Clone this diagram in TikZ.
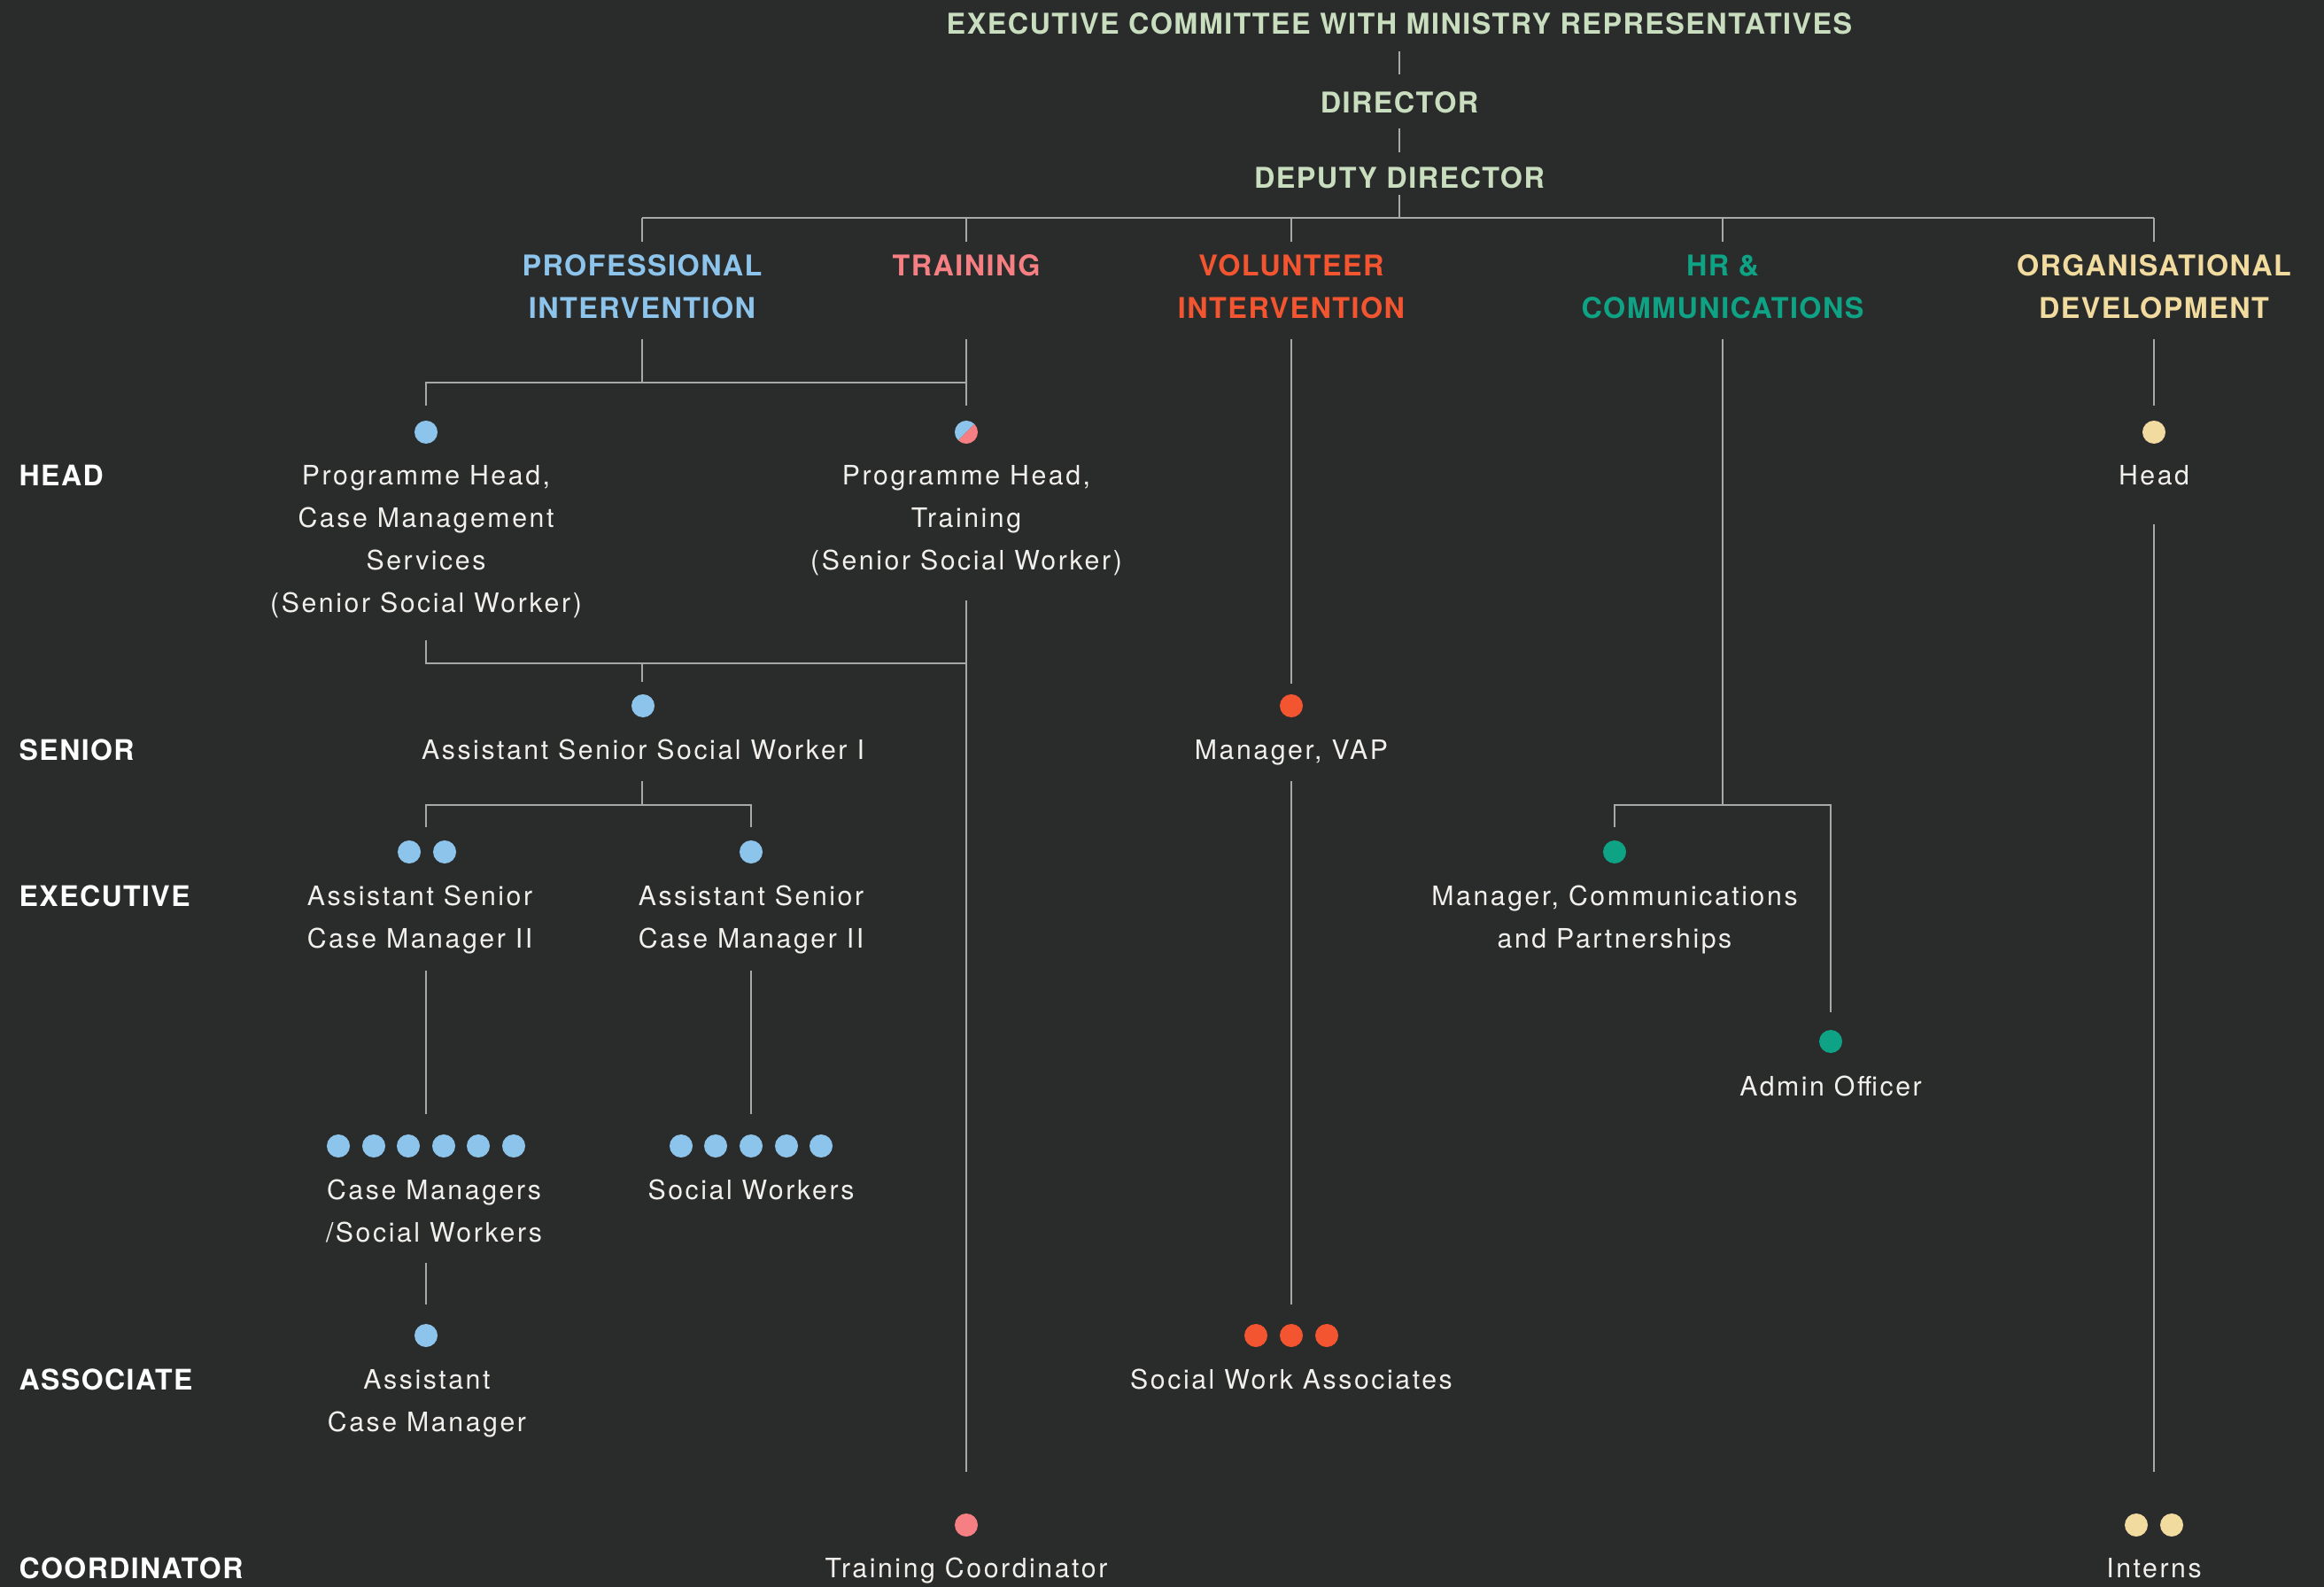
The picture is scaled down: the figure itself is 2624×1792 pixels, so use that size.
\documentclass[tikz,border=0pt]{standalone}
\usepackage{fontspec}
\newfontfamily\hdfam{TeX Gyre Heros}[LetterSpace=4.5]
\newfontfamily\bdfam{TeX Gyre Heros}[LetterSpace=8.5]
\definecolor{bgc}{HTML}{2A2B2B}
\definecolor{hgreen}{HTML}{C9DDBF}
\definecolor{cblue}{HTML}{8DC4EC}
\definecolor{cpink}{HTML}{F57F82}
\definecolor{corange}{HTML}{F2552F}
\definecolor{cteal}{HTML}{0EA384}
\definecolor{cyellow}{HTML}{F1DB9E}
\definecolor{txtw}{HTML}{F2F0EC}
\definecolor{lgray}{HTML}{A8A8A8}
\newcommand\hstr{\rule{0pt}{9pt}}
\newcommand\bstr{\rule{0pt}{8pt}}
\tikzset{
  conn/.style={draw=lgray, line width=0.55pt},
  pdot/.style={circle, fill=#1, minimum size=0.26cm, inner sep=0pt},
  hd/.style={font=\hdfam\bfseries\fontsize{9.2}{13.6}\selectfont, text=#1, align=center, anchor=north, inner sep=0pt},
  bd/.style={font=\bdfam\fontsize{8.6}{13.6}\selectfont, text=txtw, align=center, anchor=north, inner sep=0pt},
  lvl/.style={font=\hdfam\bfseries\fontsize{9.1}{13.6}\selectfont, text=white, anchor=base west, inner sep=0pt},
}
\begin{document}
\begin{tikzpicture}[x=0.01cm, y=-0.01cm]
\fill[bgc] (0,0) rectangle (2624,1792);
\useasboundingbox (0,0) rectangle (2624,1792);

% ---------- top headers ----------
\node[hd=hgreen] (exec) at (1580,6.5) {\hstr EXECUTIVE COMMITTEE WITH MINISTRY REPRESENTATIVES};
\node[hd=hgreen] (dir) at (1580,95) {\hstr DIRECTOR};
\node[hd=hgreen] (dep) at (1580,180.5) {\hstr DEPUTY DIRECTOR};

% ---------- departments ----------
\node[hd=cblue] (pi) at (725,279.5) {\hstr PROFESSIONAL\\INTERVENTION};
\node[hd=cpink] (tr) at (1091,279.5) {\hstr TRAINING};
\node[hd=corange] (vo) at (1458,279.5) {\hstr VOLUNTEER\\INTERVENTION};
\node[hd=cteal] (hr) at (1945,279.5) {\hstr HR \&\\COMMUNICATIONS};
\node[hd=cyellow] (od) at (2432,279.5) {\hstr ORGANISATIONAL\\DEVELOPMENT};

% ---------- level labels ----------
\node[lvl] (l-head) at (21,548.5) {HEAD};
\node[lvl] (l-senior) at (21,858.5) {SENIOR};
\node[lvl] (l-exec) at (21,1023.5) {EXECUTIVE};
\node[lvl] (l-assoc) at (21,1569.5) {ASSOCIATE};
\node[lvl] (l-coord) at (21,1782.5) {COORDINATOR};

% ---------- dots ----------
\node[pdot=cblue] (d-phcms) at (481,488) {};
\node[circle, minimum size=0.26cm, inner sep=0pt] (d-phtr) at (1091,488) {};
\fill[cblue] (d-phtr.center) ++(45:0.13cm) arc[start angle=45, end angle=225, radius=0.13cm] -- cycle;
\fill[cpink] (d-phtr.center) ++(225:0.13cm) arc[start angle=225, end angle=405, radius=0.13cm] -- cycle;
\node[pdot=cyellow] (d-odhead) at (2432,488) {};
\node[pdot=cblue] (d-assw) at (726,797) {};
\node[pdot=corange] (d-vap) at (1458,797) {};
\node[pdot=cblue] (d-ascm1a) at (462,962) {};
\node[pdot=cblue] (d-ascm1b) at (502,962) {};
\node[pdot=cblue] (d-ascm2) at (848,962) {};
\node[pdot=cteal] (d-mcp) at (1823,962) {};
\node[pdot=cteal] (d-admin) at (2067,1176) {};
\foreach \i/\xx in {1/382,2/422,3/461,4/501,5/540,6/580}
  \node[pdot=cblue] (d-cm\i) at (\xx,1294) {};
\foreach \i/\xx in {1/769,2/808,3/848,4/888,5/927}
  \node[pdot=cblue] (d-sw\i) at (\xx,1294) {};
\node[pdot=cblue] (d-acm) at (481,1508) {};
\foreach \i/\xx in {1/1418,2/1458,3/1498}
  \node[pdot=corange] (d-swa\i) at (\xx,1508) {};
\node[pdot=cpink] (d-tc) at (1091,1722) {};
\node[pdot=cyellow] (d-int1) at (2412,1722) {};
\node[pdot=cyellow] (d-int2) at (2452,1722) {};

% ---------- body texts ----------
\node[bd] (t-phcms) at (481,519) {\bstr Programme Head,\\Case Management\\Services\\(Senior Social Worker)};
\node[bd] (t-phtr) at (1091,519) {\bstr Programme Head,\\Training\\(Senior Social Worker)};
\node[bd] (t-odhead) at (2432,519) {\bstr Head};
\node[bd] (t-assw) at (726,829) {\bstr Assistant Senior Social Worker I};
\node[bd] (t-vap) at (1458,829) {\bstr Manager, VAP};
\node[bd] (t-ascm1) at (474,994) {\bstr Assistant Senior\\Case Manager II};
\node[bd] (t-ascm2) at (848,994) {\bstr Assistant Senior\\Case Manager II};
\node[bd] (t-mcp) at (1823,994) {\bstr Manager, Communications\\and Partnerships};
\node[bd] (t-admin) at (2067,1209) {\bstr Admin Officer};
\node[bd] (t-cmsw) at (490,1326) {\bstr Case Managers\\/Social Workers};
\node[bd] (t-sw) at (848,1326) {\bstr Social Workers};
\node[bd] (t-acm) at (482,1540) {\bstr Assistant\\Case Manager};
\node[bd] (t-swa) at (1458,1540) {\bstr Social Work Associates};
\node[bd] (t-tc) at (1091,1753) {\bstr Training Coordinator};
\node[bd] (t-int) at (2432,1753) {\bstr Interns};

% ---------- connector coordinates ----------
\coordinate (j-ex1) at (1580,58);  \coordinate (j-ex2) at (1580,84);
\coordinate (j-di1) at (1580,145); \coordinate (j-di2) at (1580,172);
\coordinate (j-de1) at (1580,220); \coordinate (j-bus) at (1580,246);
\coordinate (b-pi) at (725,246);  \coordinate (b-tr) at (1091,246);
\coordinate (b-vo) at (1458,246); \coordinate (b-hr) at (1945,246);
\coordinate (b-od) at (2432,246);
\coordinate (t-pi) at (725,273);  \coordinate (t-tr) at (1091,273);
\coordinate (t-vo) at (1458,273); \coordinate (t-hr) at (1945,273);
\coordinate (t-od) at (2432,273);
\coordinate (u-pi) at (725,383);  \coordinate (u-tr) at (1091,383);
\coordinate (u-vo) at (1458,383); \coordinate (u-hr) at (1945,383);
\coordinate (u-od) at (2432,383);
\coordinate (k-pi) at (725,432); \coordinate (k-l) at (481,432);
\coordinate (k-tr) at (1091,432);
\coordinate (k-l2) at (481,458); \coordinate (k-tr2) at (1091,458);
\coordinate (o-od2) at (2432,458);
\coordinate (m-l1) at (481,723); \coordinate (m-l2) at (481,749);
\coordinate (m-tr) at (1091,749); \coordinate (m-c) at (725,749);
\coordinate (m-c2) at (725,770);
\coordinate (tr-a) at (1091,678); \coordinate (tr-b) at (1091,1662);
\coordinate (s-c1) at (725,882); \coordinate (s-c2) at (725,909);
\coordinate (s-l) at (481,909); \coordinate (s-r) at (848,909);
\coordinate (s-l2) at (481,934); \coordinate (s-r2) at (848,934);
\coordinate (e-l1) at (481,1096); \coordinate (e-l2) at (481,1258);
\coordinate (e-r1) at (848,1096); \coordinate (e-r2) at (848,1258);
\coordinate (w-l1) at (481,1426); \coordinate (w-l2) at (481,1473);
\coordinate (v-1) at (1458,772); \coordinate (v-2) at (1458,882);
\coordinate (v-3) at (1458,1473);
\coordinate (h-j) at (1945,909); \coordinate (h-l) at (1823,909);
\coordinate (h-r) at (2067,909); \coordinate (h-l2) at (1823,934);
\coordinate (h-r2) at (2067,1143);
\coordinate (o-1) at (2432,592); \coordinate (o-2) at (2432,1662);

% ---------- connectors ----------
\draw[conn] (j-ex1) -- (j-ex2);
\draw[conn] (j-di1) -- (j-di2);
\draw[conn] (j-de1) -- (j-bus);
\draw[conn] (b-pi) -- (b-od);
\draw[conn] (b-pi) -- (t-pi);
\draw[conn] (b-tr) -- (t-tr);
\draw[conn] (b-vo) -- (t-vo);
\draw[conn] (b-hr) -- (t-hr);
\draw[conn] (b-od) -- (t-od);
\draw[conn] (u-pi) -- (k-pi);
\draw[conn] (k-l2) -- (k-l) -- (k-tr);
\draw[conn] (u-tr) -- (k-tr2);
\draw[conn] (u-od) -- (o-od2);
\draw[conn] (m-l1) -- (m-l2) -- (m-tr);
\draw[conn] (m-c) -- (m-c2);
\draw[conn] (tr-a) -- (tr-b);
\draw[conn] (s-c1) -- (s-c2);
\draw[conn] (s-l2) -- (s-l) -- (s-r) -- (s-r2);
\draw[conn] (e-l1) -- (e-l2);
\draw[conn] (e-r1) -- (e-r2);
\draw[conn] (w-l1) -- (w-l2);
\draw[conn] (u-vo) -- (v-1);
\draw[conn] (v-2) -- (v-3);
\draw[conn] (u-hr) -- (h-j);
\draw[conn] (h-l2) -- (h-l) -- (h-r) -- (h-r2);
\draw[conn] (o-1) -- (o-2);
\end{tikzpicture}
\end{document}
